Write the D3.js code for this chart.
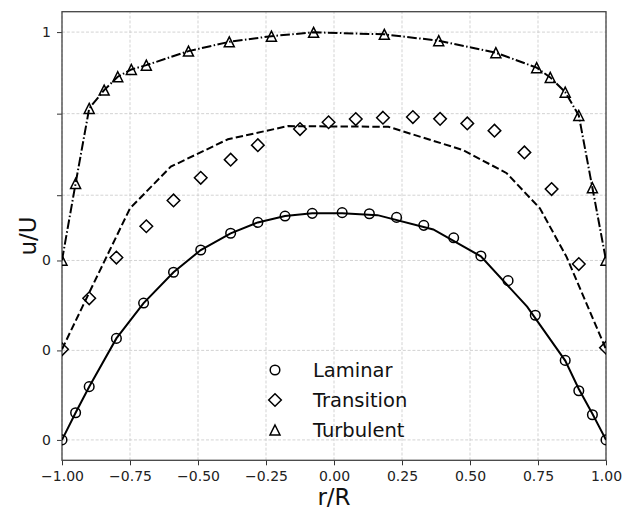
<!DOCTYPE html>
<html>
<head>
<meta charset="utf-8">
<script src="https://cdn.jsdelivr.net/npm/d3@7"></script>
<style>
  html, body { margin: 0; padding: 0; background: #fff; }
  svg { display: block; font-family: "DejaVu Sans", sans-serif; }
</style>
</head>
<body>
<svg id="chart" width="631" height="511"></svg>
<script>
// Measured velocity profiles (stacked: transition and turbulent are shifted upward)
const laminarR = [-1, -0.95, -0.9, -0.8, -0.7, -0.59, -0.49, -0.38, -0.28, -0.18, -0.08, 0.03, 0.13, 0.23, 0.33, 0.44, 0.54, 0.64, 0.74, 0.85, 0.9, 0.95, 1.0];
const laminarU = [0, 0.12, 0.235, 0.448, 0.604, 0.74, 0.838, 0.912, 0.96, 0.988, 1.0, 1.003, 0.998, 0.982, 0.947, 0.892, 0.812, 0.703, 0.55, 0.351, 0.217, 0.111, 0];

const transitionR = [-1, -0.9, -0.8, -0.69, -0.59, -0.49, -0.38, -0.28, -0.125, -0.02, 0.08, 0.18, 0.29, 0.39, 0.49, 0.59, 0.7, 0.8, 0.9, 1.0];
const transitionU = [0.4, 0.625, 0.805, 0.943, 1.057, 1.157, 1.237, 1.301, 1.372, 1.402, 1.416, 1.422, 1.425, 1.417, 1.397, 1.365, 1.269, 1.107, 0.776, 0.407];

const turbulentR = [-1, -0.95, -0.9, -0.845, -0.795, -0.745, -0.69, -0.535, -0.385, -0.23, -0.075, 0.185, 0.385, 0.595, 0.745, 0.795, 0.85, 0.9, 0.95, 1.0];
const turbulentU = [0.793, 1.132, 1.463, 1.544, 1.603, 1.635, 1.654, 1.716, 1.757, 1.782, 1.799, 1.79, 1.762, 1.709, 1.643, 1.6, 1.535, 1.432, 1.113, 0.793];

// Model curves drawn through the data
const laminarFitR = [-1, -0.95, -0.9, -0.8, -0.7, -0.59, -0.49, -0.38, -0.28, -0.18, -0.08, 0.03, 0.16, 0.365, 0.54, 0.71, 0.85, 0.9, 0.95, 1.0];
const laminarFitU = [0, 0.12, 0.235, 0.448, 0.604, 0.74, 0.838, 0.912, 0.96, 0.988, 1.0, 1.0, 0.992, 0.929, 0.81, 0.588, 0.35, 0.225, 0.115, 0];

const transitionFitR = [-1, -0.9, -0.75, -0.6, -0.39, -0.17, 0.2, 0.475, 0.635, 0.757, 0.855, 1.0];
const transitionFitU = [0.4, 0.65, 1.022, 1.206, 1.327, 1.385, 1.382, 1.279, 1.177, 1.022, 0.808, 0.4];

const turbulentFitR = turbulentR;
const turbulentFitU = turbulentU;

// Axis ticks
const xTicks = [-1, -0.75, -0.5, -0.25, 0, 0.25, 0.5, 0.75, 1];
const yTicks = [0, 0.395, 0.792, 1.08, 1.44, 1.8];
const yTickLabels = ["0", "0", "0", "", "", "1"];

const legendNames = ["Laminar", "Transition", "Turbulent"];

const svg = d3.select("#chart");
const margin = { left: 62, right: 25, top: 11.7, bottom: 50.7 };
const W = 631, H = 511;
const x = d3.scaleLinear().domain([-1, 1]).range([margin.left, W - margin.right]);
const y = d3.scaleLinear().domain([-0.09, 1.89]).range([H - margin.bottom, margin.top]);

const plot = svg.append("g");

svg.append("defs").append("clipPath").attr("id", "clip")
  .append("rect")
  .attr("x", x.range()[0]).attr("y", y.range()[1])
  .attr("width", x.range()[1] - x.range()[0])
  .attr("height", y.range()[0] - y.range()[1]);

// Grid
const grid = plot.append("g").attr("stroke", "#c8c8c8").attr("stroke-width", 0.8)
  .attr("stroke-dasharray", "3,1.8");
grid.selectAll("line.gx").data(xTicks).join("line")
  .attr("x1", d => x(d)).attr("x2", d => x(d))
  .attr("y1", y.range()[0]).attr("y2", y.range()[1]);
grid.selectAll("line.gy").data(yTicks).join("line")
  .attr("y1", d => y(d)).attr("y2", d => y(d))
  .attr("x1", x.range()[0]).attr("x2", x.range()[1]);

// Axes
const fmtX = d => d3.format(".2f")(d).replace("-", "\u2212");
const xAxis = d3.axisBottom(x).tickValues(xTicks).tickFormat(fmtX).tickSize(5).tickPadding(6);
const yAxis = d3.axisLeft(y).tickValues(yTicks).tickFormat((d, i) => yTickLabels[i]).tickSize(5).tickPadding(6);

const gx = plot.append("g").attr("transform", `translate(0,${y.range()[0]})`).call(xAxis);
const gy = plot.append("g").attr("transform", `translate(${x.range()[0]},0)`).call(yAxis);
[gx, gy].forEach(g => {
  g.select(".domain").remove();
  g.selectAll(".tick line").attr("stroke", "#333").attr("stroke-width", 1);
  g.selectAll(".tick text").attr("fill", "#222").style("font-size", "14px")
    .style("font-family", "'DejaVu Sans', sans-serif");
});

// Frame
plot.append("rect")
  .attr("x", x.range()[0]).attr("y", y.range()[1])
  .attr("width", x.range()[1] - x.range()[0])
  .attr("height", y.range()[0] - y.range()[1])
  .attr("fill", "none").attr("stroke", "#444").attr("stroke-width", 1.3);

// Axis titles
svg.append("text").attr("x", (x.range()[0] + x.range()[1]) / 2).attr("y", 505)
  .attr("text-anchor", "middle").style("font-size", "23px").attr("fill", "#111").text("r/R");
svg.append("text").attr("transform", `translate(36,${(y.range()[0] + y.range()[1]) / 2}) rotate(-90)`)
  .attr("text-anchor", "middle").style("font-size", "23px").attr("fill", "#111").text("u/U");

// Curves
const data = {
  lam: laminarFitR.map((r, i) => [r, laminarFitU[i]]),
  tra: transitionFitR.map((r, i) => [r, transitionFitU[i]]),
  tur: turbulentFitR.map((r, i) => [r, turbulentFitU[i]])
};
const line = d3.line().x(d => x(d[0])).y(d => y(d[1]));
const curves = plot.append("g").attr("clip-path", "url(#clip)")
  .attr("fill", "none").attr("stroke", "#000").attr("stroke-width", 2);
curves.append("path").attr("d", line(data.lam));
curves.append("path").attr("d", line(data.tra)).attr("stroke-dasharray", "7.4,3.2");
curves.append("path").attr("d", line(data.tur)).attr("stroke-dasharray", "9.6,2.4,1.5,2.4");

// Marker shapes
const circleSym = d3.symbol().type(d3.symbolCircle).size(Math.PI * 4.8 * 4.8);
function diamondPath(s) { return `M0,${-s}L${s},0L0,${s}L${-s},0Z`; }
function trianglePath(s) { return `M0,${-s}L${s},${s}L${-s},${s}Z`; }

const marks = plot.append("g").attr("clip-path", "url(#clip)")
  .attr("fill", "none").attr("stroke", "#000").attr("stroke-width", 1.5);
marks.selectAll("path.lam").data(laminarR.map((r, i) => [r, laminarU[i]])).join("path")
  .attr("transform", d => `translate(${x(d[0])},${y(d[1])})`).attr("d", circleSym());
marks.selectAll("path.tra").data(transitionR.map((r, i) => [r, transitionU[i]])).join("path")
  .attr("transform", d => `translate(${x(d[0])},${y(d[1])})`).attr("d", diamondPath(6.3));
marks.selectAll("path.tur").data(turbulentR.map((r, i) => [r, turbulentU[i]])).join("path")
  .attr("transform", d => `translate(${x(d[0])},${y(d[1])})`).attr("d", trianglePath(5));

// Legend
const legend = svg.append("g");
const legendShapes = [circleSym(), diamondPath(6.3), trianglePath(5)];
legendNames.forEach((name, i) => {
  const ly = 370 + i * 30;
  legend.append("path").attr("transform", `translate(275,${ly})`).attr("d", legendShapes[i])
    .attr("fill", "none").attr("stroke", "#000").attr("stroke-width", 1.5);
  legend.append("text").attr("x", 313).attr("y", ly).attr("dy", "0.35em")
    .style("font-size", "19.5px").attr("fill", "#111").text(name);
});
</script>
</body>
</html>
